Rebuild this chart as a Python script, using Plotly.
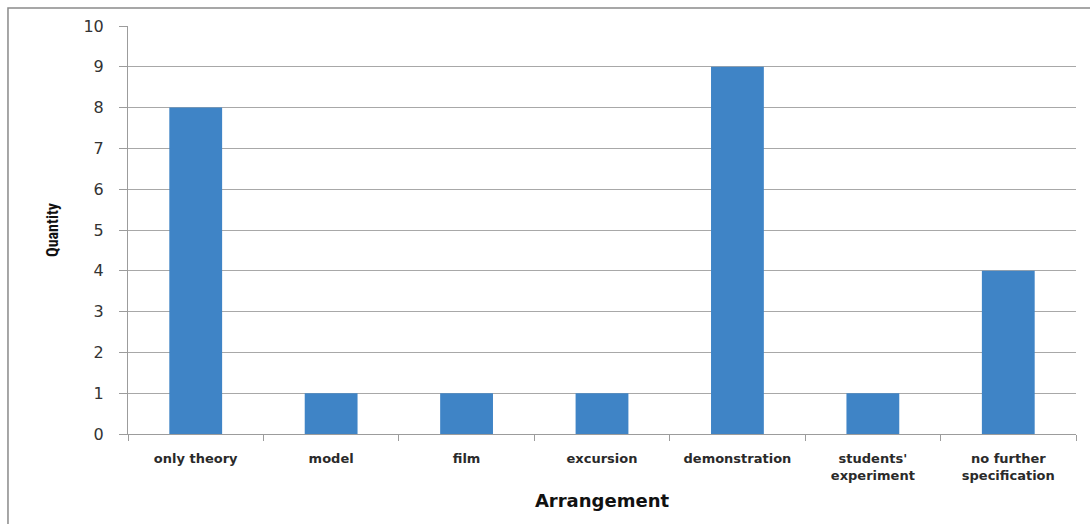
import plotly.graph_objects as go

categories = ["only theory", "model", "film", "excursion", "demonstration",
              "students'<br>experiment", "no further<br>specification"]
quantity = [8, 1, 1, 1, 9, 1, 4]
y_ticks = list(range(0, 11))

fig = go.Figure(go.Bar(
    x=categories, y=quantity,
    marker=dict(color="#3F84C6", line=dict(width=0)),
    width=0.39,
))

axis_gray = "#9C9C9C"
fig.update_layout(
    width=1090, height=524,
    margin=dict(l=128, r=14, t=26, b=90),
    paper_bgcolor="white", plot_bgcolor="white",
    showlegend=False,
    bargap=0.61,
)
fig.update_xaxes(
    showline=True, linecolor=axis_gray, linewidth=1,
    ticks="outside", tickson="boundaries", ticklen=6, tickcolor=axis_gray,
    ticklabelstandoff=12,
    tickfont=dict(family="DejaVu Sans", size=13, color="#2A2A2A", weight=600),
    title=dict(text="Arrangement", font=dict(family="DejaVu Sans", size=18, color="#111111", weight=700), standoff=12),
    showgrid=False,
)
fig.update_yaxes(
    range=[0, 10], tickvals=y_ticks,
    showline=True, linecolor=axis_gray, linewidth=1,
    ticks="outside", ticklen=8, tickcolor=axis_gray,
    ticklabelstandoff=12,
    showgrid=True, gridcolor="#A8A8A8", gridwidth=1,
    tickfont=dict(family="DejaVu Sans", size=16, color="#333333"),
    title=dict(text="Quantity", font=dict(family="Liberation Sans Narrow, Roboto Condensed, Roboto", size=16, color="#111111", weight=700), standoff=20),
    zeroline=False,
)
# outer frame (left and top edges visible)
fig.add_shape(type="rect", xref="paper", yref="paper",
              x0=-0.1266, x1=1.1, y0=-0.25, y1=1.0441,
              line=dict(color="#8A8A8A", width=1.5), layer="below")

fig.write_html("out.html")
